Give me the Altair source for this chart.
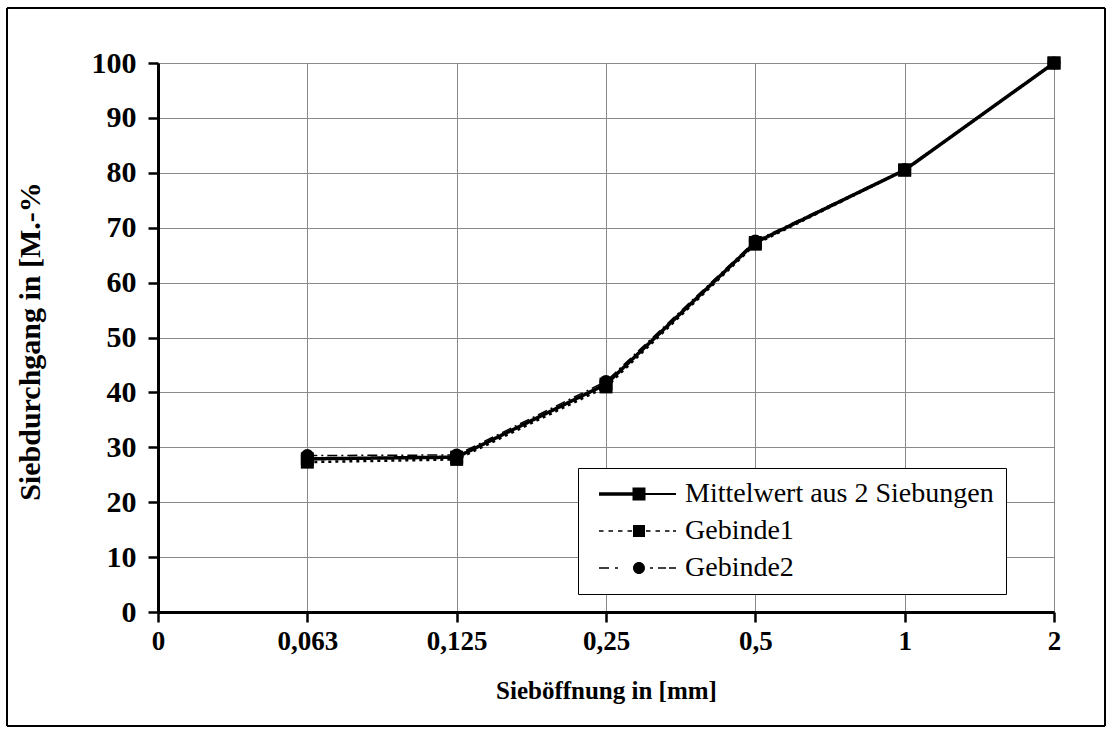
import altair as alt
import pandas as pd

# ---- data ----
x_labels = ["0", "0,063", "0,125", "0,25", "0,5", "1", "2"]
sieve = ["0,063", "0,125", "0,25", "0,5", "1", "2"]
mittelwert = [27.9, 28.2, 41.5, 67.3, 80.5, 100.0]
gebinde1 = [27.3, 27.8, 41.0, 67.0, 80.5, 100.0]
gebinde2 = [28.5, 28.6, 42.0, 67.6, 80.6, 100.0]
series_names = ["Mittelwert aus 2 Siebungen", "Gebinde1", "Gebinde2"]
y_ticks = [0, 10, 20, 30, 40, 50, 60, 70, 80, 90, 100]

rows = []
for name, vals in [("Gebinde1", gebinde1), ("Gebinde2", gebinde2),
                   ("Mittelwert aus 2 Siebungen", mittelwert)]:
    for s, v in zip(sieve, vals):
        rows.append({"series": name, "sieve": s, "value": v})
df = pd.DataFrame(rows)

# legend key glyphs (filled paths: line pieces + marker), unit = 10 px at symbolSize 400
key_mittel = ("M-4,-0.17 L-0.6,-0.17 L-0.6,0.17 L-4,0.17 Z "
              "M0.6,-0.11 L3.7,-0.11 L3.7,0.11 L0.6,0.11 Z "
              "M-0.65,-0.65 L0.65,-0.65 L0.65,0.65 L-0.65,0.65 Z")
key_geb1 = ("M-4,-0.08 L-3.55,-0.08 L-3.55,0.08 L-4,0.08 Z "
            "M-3.05,-0.08 L-2.6,-0.08 L-2.6,0.08 L-3.05,0.08 Z "
            "M-2.1,-0.08 L-1.65,-0.08 L-1.65,0.08 L-2.1,0.08 Z "
            "M-1.15,-0.08 L-0.7,-0.08 L-0.7,0.08 L-1.15,0.08 Z "
            "M0.7,-0.08 L1.15,-0.08 L1.15,0.08 L0.7,0.08 Z "
            "M1.65,-0.08 L2.1,-0.08 L2.1,0.08 L1.65,0.08 Z "
            "M2.6,-0.08 L3.05,-0.08 L3.05,0.08 L2.6,0.08 Z "
            "M3.4,-0.08 L3.7,-0.08 L3.7,0.08 L3.4,0.08 Z "
            "M-0.6,-0.6 L0.6,-0.6 L0.6,0.6 L-0.6,0.6 Z")
key_geb2 = ("M-4,-0.08 L-3.0,-0.08 L-3.0,0.08 L-4,0.08 Z "
            "M-2.4,-0.08 L-2.1,-0.08 L-2.1,0.08 L-2.4,0.08 Z "
            "M1.1,-0.08 L1.4,-0.08 L1.4,0.08 L1.1,0.08 Z "
            "M1.9,-0.08 L2.7,-0.08 L2.7,0.08 L1.9,0.08 Z "
            "M3.0,-0.08 L3.7,-0.08 L3.7,0.08 L3.0,0.08 Z "
            "M0.6,0 A0.6,0.6 0 1,1 -0.6,0 A0.6,0.6 0 1,1 0.6,0 Z")

serif = "Liberation Serif"

legend = alt.Legend(
    title=None, orient="none", legendX=420, legendY=405,
    fillColor="white", strokeColor="black", padding=12,
    labelFont=serif, labelFontSize=28, labelColor="black", labelLimit=0,
    symbolSize=400, symbolOffset=35, labelOffset=32, rowPadding=9,
)

x_enc = alt.X(
    "sieve:O",
    scale=alt.Scale(domain=x_labels, type="point", padding=0),
    axis=alt.Axis(
        title="Sieböffnung in [mm]", labelAngle=0,
        labelFont=serif, labelFontSize=27, labelFontWeight="bold", labelColor="black",
        labelPadding=6,
        titleFont=serif, titleFontSize=25, titleFontWeight="bold", titleColor="black",
        titleY=78, titleBaseline="middle",
        domainColor="black", domainWidth=3,
        tickColor="black", tickWidth=2.5, tickSize=10,
        grid=True, gridColor="#8a8a8a", gridWidth=1,
    ),
)
y_enc = alt.Y(
    "value:Q",
    scale=alt.Scale(domain=[0, 100], nice=False),
    axis=alt.Axis(
        title="Siebdurchgang in [M.-%", values=y_ticks,
        labelFont=serif, labelFontSize=30, labelFontWeight="bold", labelColor="black",
        labelPadding=12,
        titleFont=serif, titleFontSize=30, titleFontWeight="bold", titleColor="black",
        titleX=-128, titleY=278, titleAngle=-90, titleBaseline="middle", titleAlign="center",
        domainColor="black", domainWidth=3,
        tickColor="black", tickWidth=2.5, tickSize=10,
        grid=True, gridColor="#8a8a8a", gridWidth=1,
    ),
)

lines = alt.Chart(df).mark_line(interpolate="linear", color="black").encode(
    x=x_enc, y=y_enc,
    detail="series:N",
    strokeDash=alt.StrokeDash("series:N", scale=alt.Scale(
        domain=series_names, range=[[1, 0], [3, 4], [10, 4, 2, 4]]), legend=None),
    strokeWidth=alt.StrokeWidth("series:N", scale=alt.Scale(
        domain=series_names, range=[3.5, 1.5, 1.5]), legend=None),
)

points = alt.Chart(df).mark_point(filled=True, size=169, color="black",
                                  strokeWidth=0, opacity=1).encode(
    x=x_enc, y=y_enc,
    shape=alt.Shape("series:N", scale=alt.Scale(
        domain=series_names, range=["square", "square", "circle"]), legend=None),
)

# legend-only layer: no rows, so nothing is drawn, but it carries the legend
legend_layer = alt.Chart(df).transform_filter("false").mark_point(
    filled=True, size=400, color="black", strokeWidth=0, opacity=1
).encode(
    shape=alt.Shape("series:N", scale=alt.Scale(
        domain=series_names, range=[key_mittel, key_geb1, key_geb2]), legend=legend),
)

frame = alt.Chart(df).mark_rect(fill=None, stroke="black", strokeWidth=1).encode(
    x=alt.value(-151), x2=alt.value(947), y=alt.value(-55), y2=alt.value(663)
)

chart = alt.layer(lines, points, legend_layer, frame).resolve_scale(
    shape="independent"
).resolve_legend(
    shape="independent"
).properties(
    width=896, height=549,
    autosize=alt.AutoSizeParams(type="none"),
    padding={"left": 158, "top": 63, "right": 58, "bottom": 120},
    background="white",
).configure_view(stroke=None)

chart.save("out.html", embed_options={"renderer": "svg", "actions": False})
